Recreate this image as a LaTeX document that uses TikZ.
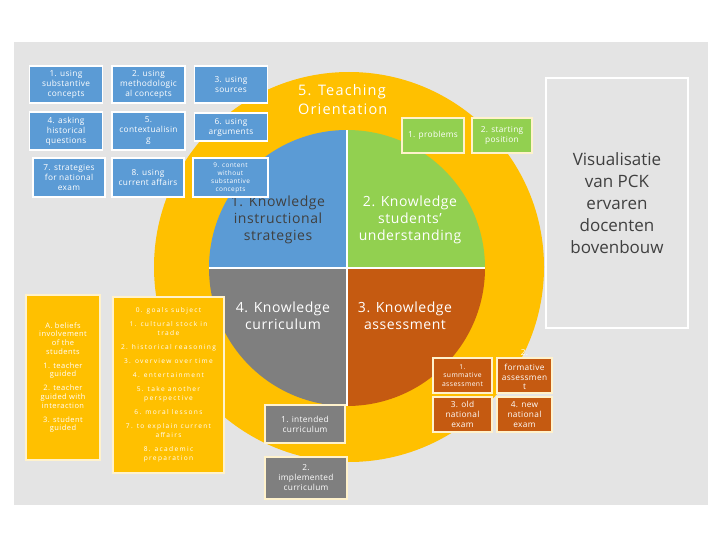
\documentclass[tikz,border=0pt]{standalone}
\usepackage{fontspec}
\setmainfont{Open Sans}
\definecolor{bg}{RGB}{228,228,228}
\definecolor{kblue}{RGB}{91,155,213}
\definecolor{kgreen}{RGB}{146,208,80}
\definecolor{kgray}{RGB}{127,127,127}
\definecolor{korange}{RGB}{197,90,17}
\definecolor{kyellow}{RGB}{255,192,0}
\definecolor{kdark}{RGB}{64,64,64}
\definecolor{kcream}{RGB}{255,242,204}
\begin{document}
\begin{tikzpicture}[x=1pt,y=-1pt,
  sbox/.style={draw=white,line width=1.2pt,inner sep=1pt,align=center,text=white,
    font=\fontsize{8.3}{10}\selectfont\addfontfeature{LetterSpace=4}},
  bluebox/.style={sbox,fill=kblue},
  greenbox/.style={sbox,fill=kgreen,draw=kcream},
  orangebox/.style={sbox,fill=korange,draw=kcream},
  graybox/.style={sbox,fill=kgray,draw=kcream},
  yellowbox/.style={sbox,fill=kyellow,draw=kcream},
  qlabel/.style={align=center,font=\fontsize{14}{17}\selectfont\addfontfeature{LetterSpace=4},inner sep=0pt},
]
\useasboundingbox (0,0) rectangle (720,540);
\fill[white] (0,0) rectangle (720,540);
\fill[bg] (14,42) rectangle (708,505);

% yellow orientation disk
\fill[kyellow] (349,267) circle[radius=195pt];

% pie
\begin{scope}
\clip (347,268) circle[radius=138pt];
\fill[kblue] (200,120) rectangle (347,268);
\fill[kgreen] (347,120) rectangle (500,268);
\fill[kgray] (200,268) rectangle (347,420);
\fill[korange] (347,268) rectangle (500,420);
\end{scope}
\draw[white,line width=1.5pt] (347,130) -- (347,406) (209,268) -- (485,268);

\node[qlabel,text=kdark] (q1) at (278,220) {1. Knowledge\\instructional\\strategies};
\node[qlabel,text=white] (q2) at (410,220) {2. Knowledge\\students'\\understanding};
\node[qlabel,text=white] (q3) at (405,316) {3. Knowledge\\assessment};
\node[qlabel,text=white] (q4) at (283,316) {4. Knowledge\\curriculum};
\node[qlabel,text=white,align=left,anchor=north west,font=\fontsize{14.5}{19}\selectfont\addfontfeature{LetterSpace=8}] (q5) at (298,84) {5. Teaching\\Orientation};

% blue boxes
\node[bluebox,minimum width=73pt,minimum height=37pt] (b1) at (66,84.5) {1. using\\substantive\\concepts};
\node[bluebox,minimum width=73pt,minimum height=37pt] (b2) at (148.5,84.5) {2. using\\methodologic\\al concepts};
\node[bluebox,minimum width=73pt,minimum height=37pt] (b3) at (231,84.5) {3. using\\sources};
\node[bluebox,minimum width=73pt,minimum height=38pt] (b4) at (66,131) {4. asking\\historical\\questions};
\node[bluebox,minimum width=73pt,minimum height=38pt] (b5) at (148.5,131) {5.\\contextualisin\\g};
\node[bluebox,minimum width=73pt,minimum height=28pt] (b6) at (231,127) {6. using\\arguments};
\node[bluebox,minimum width=72pt,minimum height=39pt] (b7) at (69,177.5) {7. strategies\\for national\\exam};
\node[bluebox,minimum width=72pt,minimum height=39pt] (b8) at (148,177.5) {8. using\\current affairs};
\node[bluebox,minimum width=75pt,minimum height=39pt,font=\fontsize{6.5}{8}\selectfont\addfontfeature{LetterSpace=6}] (b9) at (230.5,177.5) {9. content\\without\\substantive\\concepts};

% green boxes
\node[greenbox,minimum width=62pt,minimum height=35pt] (g1) at (433,135.5) {1. problems};
\node[greenbox,minimum width=60pt,minimum height=35pt] (g2) at (502,135.5) {2. starting\\position};

% title box
\node[draw=white,line width=1.5pt,minimum width=142pt,minimum height=250pt,align=center,
  text=kdark,font=\fontsize{17}{22}\selectfont] (title) at (617,203)
  {Visualisatie\\van PCK\\ervaren\\docenten\\bovenbouw};

% yellow boxes
\node[yellowbox,minimum width=74pt,minimum height=165pt,font=\fontsize{7.5}{8.6}\selectfont\addfontfeature{LetterSpace=6}] (ya) at (63,377.5)
  {A. beliefs\\involvement\\of the\\students\\[5.5pt]1. teacher\\guided\\[5.5pt]2. teacher\\guided with\\interaction\\[5.5pt]3. student\\guided};
\node[yellowbox,minimum width=111pt,minimum height=176pt,font=\fontsize{6.6}{9}\selectfont\addfontfeature{LetterSpace=20}] (yb) at (168.5,385)
  {0. goals subject\\[5pt]1. cultural stock in\\trade\\[5pt]2. historical reasoning\\[5pt]3. overview over time\\[5pt]4. entertainment\\[5pt]5. take another\\perspective\\[5pt]6. moral lessons\\[5pt]7. to explain current\\affairs\\[5pt]8. academic\\preparation};

% orange boxes
\node[orangebox,minimum width=59pt,minimum height=35pt,font=\fontsize{6.8}{8.5}\selectfont\addfontfeature{LetterSpace=6}] (o1) at (462.5,375.5) {1.\\summative\\assessment};
\node[orangebox,minimum width=55pt,minimum height=35pt] (o2) at (524.5,375.5) {};
\node[align=center,text=white,inner sep=0pt,anchor=north,font=\fontsize{8.3}{9.5}\selectfont\addfontfeature{LetterSpace=4}] (o2t) at (524.5,349) {2.\\[6pt]formative\\assessmen\\t};
\node[orangebox,minimum width=59pt,minimum height=35pt] (o3) at (462.5,414.5) {3. old\\national\\exam};
\node[orangebox,minimum width=55pt,minimum height=35pt] (o4) at (524.5,414.5) {4. new\\national\\exam};

% gray boxes
\node[graybox,minimum width=80pt,minimum height=38pt] (c1) at (305,424) {1. intended\\curriculum};
\node[graybox,minimum width=82pt,minimum height=42pt] (c2) at (306,478) {2.\\implemented\\curriculum};
\end{tikzpicture}
\end{document}
